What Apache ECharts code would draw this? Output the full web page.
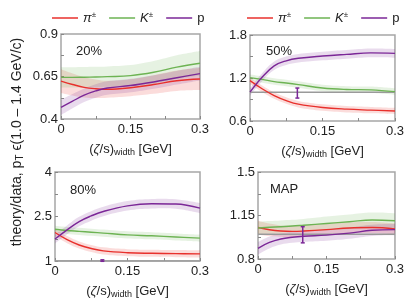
<!DOCTYPE html>
<html><head><meta charset="utf-8">
<script src="https://cdn.jsdelivr.net/npm/echarts@6/dist/echarts.min.js"></script>
<style>html,body{margin:0;padding:0;background:#fff}#c{width:407px;height:301px}</style>
</head><body><div id="c"></div>
<script>
// x grid of (zeta/s)_width in GeV
const X = [0, 0.025, 0.05, 0.075, 0.1, 0.15, 0.2, 0.25, 0.3];

// 20%
const c20_pi = [0.623, 0.603, 0.586, 0.578, 0.575, 0.584, 0.603, 0.625, 0.635];
const c20_K  = [0.645, 0.645, 0.646, 0.647, 0.649, 0.655, 0.675, 0.705, 0.728];
const c20_p  = [0.468, 0.505, 0.540, 0.565, 0.582, 0.597, 0.618, 0.643, 0.667];
const c20_piE = [0.07, 0.065, 0.06, 0.055, 0.05, 0.05, 0.055, 0.06, 0.065];
const c20_KE  = [0.06, 0.06, 0.06, 0.06, 0.06, 0.062, 0.066, 0.07, 0.072];
const c20_pE  = [0.045, 0.042, 0.04, 0.04, 0.04, 0.04, 0.04, 0.04, 0.04];

// 50%
const c50_pi = [1.163, 1.050, 0.955, 0.885, 0.835, 0.788, 0.765, 0.752, 0.740];
const c50_K  = [1.205, 1.180, 1.150, 1.130, 1.108, 1.060, 1.040, 1.035, 1.010];
const c50_p  = [1.003, 1.210, 1.370, 1.440, 1.475, 1.507, 1.530, 1.550, 1.544];
const c50_piE = [0.045, 0.045, 0.045, 0.045, 0.045, 0.045, 0.045, 0.045, 0.045];
const c50_KE  = [0.045, 0.045, 0.045, 0.045, 0.045, 0.045, 0.045, 0.045, 0.045];
const c50_pE  = [0.05, 0.055, 0.06, 0.06, 0.06, 0.06, 0.06, 0.06, 0.06];

// 80%
const c80_pi = [1.96, 1.72, 1.54, 1.42, 1.34, 1.28, 1.26, 1.25, 1.24];
const c80_K  = [2.07, 2.03, 2.00, 1.97, 1.94, 1.88, 1.85, 1.81, 1.77];
const c80_p  = [1.74, 2.05, 2.33, 2.52, 2.67, 2.86, 2.93, 2.92, 2.78];
const c80_piE = [0.12, 0.12, 0.12, 0.12, 0.12, 0.12, 0.12, 0.12, 0.12];
const c80_KE  = [0.12, 0.12, 0.12, 0.12, 0.12, 0.12, 0.12, 0.12, 0.12];
const c80_pE  = [0.15, 0.15, 0.16, 0.16, 0.16, 0.16, 0.16, 0.16, 0.17];

// MAP
const cMAP_pi = [1.053, 1.035, 1.025, 1.022, 1.025, 1.036, 1.050, 1.053, 1.042];
const cMAP_K  = [1.050, 1.055, 1.060, 1.065, 1.072, 1.086, 1.100, 1.114, 1.108];
const cMAP_p  = [0.886, 0.933, 0.961, 0.975, 0.983, 0.992, 1.008, 1.031, 1.036];
const cMAP_piE = [0.055, 0.05, 0.045, 0.045, 0.045, 0.045, 0.045, 0.045, 0.045];
const cMAP_KE  = [0.05, 0.05, 0.05, 0.05, 0.05, 0.055, 0.058, 0.06, 0.06];
const cMAP_pE  = [0.05, 0.048, 0.045, 0.045, 0.045, 0.045, 0.045, 0.045, 0.045];

// data error bars [x, low, high]
const err50 = [0.098, 0.92, 1.06];
const err80 = [0.098, 0.99, 1.04];
const errMAP = [0.098, 0.93, 1.06];

const refY = 1.0;
const panelLabels = ['20%', '50%', '80%', 'MAP'];
const yMin = [0.4, 0.6, 1, 0.8];
const yMax = [0.9, 1.8, 4, 1.5];
const yLabels = [[0.4, 0.65, 0.9], [0.6, 1.2, 1.8], [1, 2.5, 4], [0.8, 1.15, 1.5]];
const yTicks = [[0.4, 0.525, 0.65, 0.775, 0.9], [0.6, 0.9, 1.2, 1.5, 1.8], [1, 1.75, 2.5, 3.25, 4], [0.8, 0.975, 1.15, 1.325, 1.5]];
const xLabels = [0, 0.15, 0.3];
const xTicks = [0, 0.075, 0.15, 0.225, 0.3];
const names = ['π±', 'K±', 'p'];

const COL = ['#e8302c', '#6db353', '#7b2797'];
const FONT = 'Liberation Sans, Arial, sans-serif';
const SMOOTH = 0.4;

const grids = [
  {left: 61, top: 34, width: 139, height: 85},
  {left: 250, top: 35, width: 146, height: 86},
  {left: 55, top: 172, width: 145, height: 89},
  {left: 258, top: 172, width: 138, height: 87}
];

const panels = [
  {c: [c20_pi, c20_K, c20_p], e: [c20_piE, c20_KE, c20_pE], err: null, ref: false},
  {c: [c50_pi, c50_K, c50_p], e: [c50_piE, c50_KE, c50_pE], err: err50, ref: true},
  {c: [c80_pi, c80_K, c80_p], e: [c80_piE, c80_KE, c80_pE], err: err80, ref: true},
  {c: [cMAP_pi, cMAP_K, cMAP_p], e: [cMAP_piE, cMAP_KE, cMAP_pE], err: errMAP, ref: true}
];

// smooth path through pixel points (same scheme as echarts line smoothing)
function smoothSegs(P, first) {
  const n = P.length;
  const cps = P.map((p, i) => {
    if (i === 0 || i === n - 1) return [p, p];
    const pr = P[i - 1], nx = P[i + 1];
    const vx = nx[0] - pr[0], vy = nx[1] - pr[1];
    const d0 = Math.hypot(p[0] - pr[0], p[1] - pr[1]);
    const d1 = Math.hypot(nx[0] - p[0], nx[1] - p[1]);
    const r = d0 / (d0 + d1 || 1);
    return [[p[0] - vx * SMOOTH * r, p[1] - vy * SMOOTH * r],
            [p[0] + vx * SMOOTH * (1 - r), p[1] + vy * SMOOTH * (1 - r)]];
  });
  let d = (first ? 'M' : 'L') + P[0][0] + ' ' + P[0][1];
  for (let i = 0; i < n - 1; i++) {
    const a = cps[i][1], b = cps[i + 1][0], q = P[i + 1];
    d += ' C' + a[0] + ' ' + a[1] + ' ' + b[0] + ' ' + b[1] + ' ' + q[0] + ' ' + q[1];
  }
  return d;
}

const series = [];
const xAxis = [], yAxis = [];
const gridOpts = grids.map(g => Object.assign({show: true, borderColor: '#a6a6a6', borderWidth: 1.5, backgroundColor: 'transparent'}, g));

panels.forEach((pn, i) => {
  xAxis.push({
    type: 'value', gridIndex: i, min: 0, max: 0.3,
    axisLine: {show: false},
    splitLine: {show: false},
    axisTick: {show: true, inside: true, length: 3, customValues: xTicks, lineStyle: {color: '#888', width: 1}},
    axisLabel: {customValues: xLabels, color: '#222', fontSize: 13, fontFamily: FONT, margin: 4},
    name: '({it|ζ}/s){sub|width} [GeV]',
    nameLocation: 'middle', nameGap: 23,
    nameTextStyle: {color: '#222', fontSize: 13, fontFamily: FONT,
      rich: {it: {fontStyle: 'italic', fontSize: 13, fontFamily: FONT, color: '#222'},
             sub: {fontSize: 9, fontFamily: FONT, color: '#222', padding: [6, 0, 0, 0]}}}
  });
  yAxis.push({
    type: 'value', gridIndex: i, min: yMin[i], max: yMax[i],
    axisLine: {show: false},
    splitLine: {show: false},
    axisTick: {show: true, inside: true, length: 3, customValues: yTicks[i], lineStyle: {color: '#888', width: 1}},
    axisLabel: {customValues: yLabels[i], color: '#222', fontSize: 13, fontFamily: FONT, margin: 3}
  });
  // uncertainty bands
  for (let k = 0; k < 3; k++) {
    const cen = pn.c[k], hw = pn.e[k];
    series.push({type: 'custom', name: 'band' + i + '_' + k, xAxisIndex: i, yAxisIndex: i,
      data: [[X[0], cen[0]]], silent: true, z: 1, clip: true,
      renderItem: function (params, api) {
        const up = X.map((x, j) => api.coord([x, cen[j] + hw[j]]));
        const lo = X.map((x, j) => api.coord([x, cen[j] - hw[j]])).reverse();
        const d = smoothSegs(up, true) + ' ' + smoothSegs(lo, false) + ' Z';
        return {type: 'path', shape: {pathData: d}, style: {fill: COL[k], opacity: 0.17, stroke: null}};
      }});
  }
  if (pn.ref) {
    series.push({type: 'line', name: 'ref' + i, xAxisIndex: i, yAxisIndex: i, data: [[0, refY], [0.3, refY]],
      symbol: 'none', lineStyle: {color: '#9a9a9a', width: 1.5}, silent: true, z: 2});
  }
  for (let k = 0; k < 3; k++) {
    series.push({type: 'line', name: names[k], xAxisIndex: i, yAxisIndex: i, color: COL[k],
      data: X.map((x, j) => [x, pn.c[k][j]]), smooth: SMOOTH, symbol: 'none',
      lineStyle: {color: COL[k], width: 1.4}, z: 3});
  }
  if (pn.err) {
    series.push({type: 'custom', name: 'err' + i, xAxisIndex: i, yAxisIndex: i, z: 4,
      data: [pn.err],
      renderItem: function (params, api) {
        const p1 = api.coord([api.value(0), api.value(1)]);
        const p2 = api.coord([api.value(0), api.value(2)]);
        const cw = 2;
        const st = {stroke: COL[2], lineWidth: 1.5};
        return {type: 'group', children: [
          {type: 'line', shape: {x1: p1[0], y1: p1[1], x2: p2[0], y2: p2[1]}, style: st},
          {type: 'line', shape: {x1: p1[0] - cw, y1: p1[1], x2: p1[0] + cw, y2: p1[1]}, style: st},
          {type: 'line', shape: {x1: p2[0] - cw, y1: p2[1], x2: p2[0] + cw, y2: p2[1]}, style: st}
        ]};
      }});
  }
});

const legendBase = {
  data: names, icon: 'rect', itemWidth: 26, itemHeight: 1.5, itemGap: 13, top: 6,
  selectedMode: false,
  textStyle: {color: '#222', fontSize: 13, fontFamily: FONT,
    rich: {it: {fontStyle: 'italic', fontSize: 13, fontFamily: FONT, color: '#222'},
           sup: {fontSize: 8, fontFamily: FONT, color: '#222', padding: [0, 0, 6, 0]},
           n: {fontSize: 13, fontFamily: FONT, color: '#222'}}},
  formatter: function (n) {
    if (n === 'π±') return '{it|π}{sup|±}';
    if (n === 'K±') return '{it|K}{sup|±}';
    return '{n|p}';
  }
};

const graphic = [];
const lblPos = [[76, 53], [266, 53], [70, 192], [270, 191]];
panelLabels.forEach((t, i) => {
  graphic.push({type: 'text', left: lblPos[i][0], top: lblPos[i][1] - 8,
    style: {text: t, fill: '#222', font: '13px ' + FONT}});
});
graphic.push({type: 'text', x: 17, y: 142, rotation: Math.PI / 2,
  style: {text: '{n|theory/data, p}{s|T}{n| ϵ(1.0 – 1.4 GeV/c)}', align: 'center', verticalAlign: 'middle',
    rich: {n: {fontSize: 14, fontFamily: FONT, fill: '#222', color: '#222'},
           s: {fontSize: 10, fontFamily: FONT, fill: '#222', color: '#222', padding: [6, 0, 0, 0]}}}});

const chart = echarts.init(document.getElementById('c'), null, {renderer: 'canvas'});
chart.setOption({
  animation: false,
  backgroundColor: '#fff',
  grid: gridOpts,
  xAxis: xAxis,
  yAxis: yAxis,
  legend: [Object.assign({left: 47}, legendBase), Object.assign({left: 242}, legendBase)],
  graphic: graphic,
  series: series
});
</script></body></html>
